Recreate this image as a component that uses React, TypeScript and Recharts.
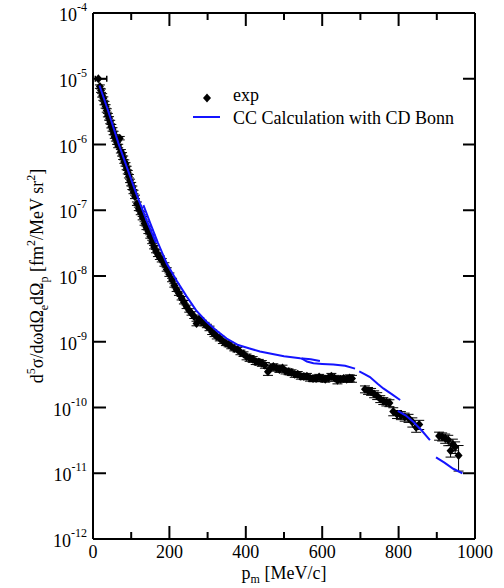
import React from 'react';
import { ScatterChart, Scatter, XAxis, YAxis, ErrorBar, Legend } from 'recharts';

const FONT = '"Liberation Serif", "Times New Roman", serif';
const BLUE = '#1414ff';

// axis ticks
const xTicks = [0, 100, 200, 300, 400, 500, 600, 700, 800, 900, 1000];
const xLabelled = [0, 200, 400, 600, 800, 1000];
const yTicks = [1e-12, 1e-11, 1e-10, 1e-9, 1e-8, 1e-7, 1e-6, 1e-5, 1e-4];
const yExponents = ['-12', '-11', '-10', '-9', '-8', '-7', '-6', '-5', '-4'];

// exp data: [p_m (MeV/c), cross section, error %]
const expFirst = [[14, 1.0e-5, 8, 22]];

const expLow = [
  [18, 7.6e-6, 6], [21, 6.6e-6, 6], [24, 5.6e-6, 6], [27, 5.0e-6, 6], [30, 4.27e-6, 6],
  [33, 3.8e-6, 6], [36, 3.3e-6, 6], [39, 2.8e-6, 6], [42, 2.5e-6, 6], [45, 2.2e-6, 6],
  [48, 1.9e-6, 6], [51, 1.7e-6, 6], [54, 1.5e-6, 6], [57, 1.32e-6, 6], [60, 1.2e-6, 6],
  [63, 1.07e-6, 6], [66, 9.5e-7, 6], [70, 1.25e-6, 6], [73, 7.9e-7, 6], [76, 7.1e-7, 6],
  [79, 6.3e-7, 6], [82, 5.5e-7, 6], [85, 5.0e-7, 6], [88, 4.4e-7, 6], [91, 3.8e-7, 6],
  [94, 3.3e-7, 6], [97, 2.8e-7, 6], [100, 2.5e-7, 6], [103, 2.2e-7, 6], [106, 1.9e-7, 6],
  [110, 1.6e-7, 6], [115, 1.26e-7, 6], [120, 1.05e-7, 6], [125, 9.1e-8, 6], [130, 7.6e-8, 6],
  [135, 6.3e-8, 6], [140, 5.4e-8, 6], [145, 4.7e-8, 6], [150, 4.0e-8, 6], [155, 3.3e-8, 6],
  [160, 2.75e-8, 6], [165, 2.4e-8, 6], [170, 2.1e-8, 6], [175, 1.9e-8, 6], [180, 1.74e-8, 6],
  [187, 1.5e-8, 6], [193, 1.26e-8, 6], [200, 1.05e-8, 6], [207, 8.7e-9, 6], [213, 7.2e-9, 6],
  [219, 6.2e-9, 6], [225, 5.4e-9, 6], [232, 4.6e-9, 6], [238, 4.0e-9, 6], [245, 3.4e-9, 6],
  [252, 3.0e-9, 6], [258, 2.7e-9, 6], [265, 2.4e-9, 6], [271, 1.9e-9, 8], [278, 2.2e-9, 6],
  [285, 2.0e-9, 6], [292, 1.86e-9, 6], [298, 1.74e-9, 6],
];

const expMid = [
  [305, 1.6e-9, 8], [312, 1.4e-9, 8], [318, 1.3e-9, 8], [324, 1.2e-9, 8], [332, 1.12e-9, 8],
  [340, 1.02e-9, 8], [348, 9.5e-10, 8], [355, 9.1e-10, 8], [362, 8.5e-10, 8], [370, 7.9e-10, 8],
  [378, 7.6e-10, 8], [386, 6.9e-10, 8], [394, 6.5e-10, 8], [402, 5.9e-10, 10], [410, 5.6e-10, 10],
  [418, 5.4e-10, 10], [426, 5.0e-10, 10], [434, 4.9e-10, 10], [442, 4.7e-10, 10], [450, 4.4e-10, 10],
  [458, 3.5e-10, 12], [465, 4.0e-10, 10], [472, 4.2e-10, 10], [480, 4.0e-10, 10], [488, 3.8e-10, 10],
  [496, 4.0e-10, 10], [504, 3.6e-10, 10], [512, 3.5e-10, 10], [520, 3.4e-10, 10], [528, 3.2e-10, 10],
  [536, 3.2e-10, 10], [544, 3.0e-10, 10], [552, 2.95e-10, 10], [560, 3.0e-10, 10], [568, 2.8e-10, 10],
  [576, 2.75e-10, 10], [584, 2.75e-10, 10], [592, 2.9e-10, 10], [600, 2.75e-10, 10], [608, 2.7e-10, 10],
  [616, 2.8e-10, 10], [624, 3.0e-10, 10], [632, 2.8e-10, 10], [640, 2.6e-10, 12], [648, 2.7e-10, 10],
  [656, 2.75e-10, 10], [664, 2.7e-10, 10], [672, 2.8e-10, 12], [678, 2.75e-10, 12],
];

const expHigh = [
  [712, 1.9e-10, 12], [720, 1.8e-10, 12], [728, 1.74e-10, 12], [736, 1.6e-10, 12], [744, 1.5e-10, 12],
  [752, 1.35e-10, 12], [760, 1.26e-10, 12], [768, 1.2e-10, 12], [776, 1.17e-10, 12], [786, 8.7e-11, 14],
  [796, 7.9e-11, 14], [806, 7.6e-11, 14], [816, 7.2e-11, 14], [826, 6.9e-11, 14], [836, 6.0e-11, 16],
  [846, 5.0e-11, 16], [854, 5.5e-11, 16],
  [906, 3.7e-11, 14], [914, 3.6e-11, 14], [922, 3.4e-11, 16], [930, 3.2e-11, 18], [936, 2.2e-11, 20],
  [942, 2.75e-11, 20], [948, 2.5e-11, 20], [957, 1.86e-11, 42],
];

// CC calculation with CD Bonn, drawn as separate pieces
const ccA = [[17, 7.9e-6], [40, 3.2e-6], [66, 1.07e-6], [90, 4.3e-7], [114, 1.74e-7], [140, 7.1e-8], [165, 3.2e-8]];
const ccB = [
  [132, 1.2e-7], [150, 6.3e-8], [170, 3.2e-8], [193, 1.55e-8], [220, 8.3e-9], [245, 4.9e-9],
  [270, 3.0e-9], [298, 2.0e-9], [325, 1.45e-9], [350, 1.12e-9], [380, 8.9e-10], [410, 7.9e-10],
  [437, 7.1e-10], [470, 6.5e-10], [500, 6.0e-10], [542, 5.6e-10], [570, 5.4e-10], [594, 5.1e-10],
];
const ccC = [[546, 5.6e-10], [560, 5.0e-10], [577, 4.7e-10], [600, 4.6e-10], [629, 4.5e-10], [660, 4.3e-10], [686, 3.9e-10]];
const ccD = [[697, 3.55e-10], [712, 3.2e-10], [725, 2.9e-10], [745, 2.3e-10], [760, 1.95e-10], [782, 1.6e-10], [804, 1.3e-10]];
const ccE = [[798, 8.9e-11], [818, 7.6e-11], [839, 6.0e-11], [860, 4.5e-11], [882, 3.2e-11]];
const ccF = [[898, 1.74e-11], [920, 1.45e-11], [943, 1.17e-11], [967, 1.0e-11]];

const expData = [...expLow, ...expMid, ...expHigh].map(([x, y, e]) => ({ x, y, err: (y * e) / 100 }));
const firstData = expFirst.map(([x, y, lo, hi]) => ({ x, y, xerr: [lo, hi] }));
const ccPieces = [ccA, ccB, ccC, ccD, ccE, ccF].map((seg) => seg.map(([x, y]) => ({ x, y })));

const Diamond = (props: any) => {
  const { cx, cy } = props;
  if (cx == null || cy == null) return <g />;
  return <path d={`M${cx},${cy - 4.5}L${cx + 4},${cy}L${cx},${cy + 4.5}L${cx - 4},${cy}Z`} fill="#000" />;
};

const NoShape = () => <g />;

const BottomTick = (props: any) => {
  const { x, y, payload } = props;
  const major = xLabelled.includes(payload.value);
  return (
    <g>
      <line x1={x} y1={y} x2={x} y2={y - (major ? 13 : 7)} stroke="#000" strokeWidth={2} />
      {major && (
        <text x={x} y={y + 19} textAnchor="middle" fontSize={18} fontFamily={FONT} fill="#000">
          {payload.value}
        </text>
      )}
    </g>
  );
};

const TopTick = (props: any) => {
  const { x, y, payload } = props;
  const major = xLabelled.includes(payload.value);
  return <line x1={x} y1={y} x2={x} y2={y + (major ? 13 : 7)} stroke="#000" strokeWidth={2} />;
};

const LeftTick = (props: any) => {
  const { x, y, payload } = props;
  const exp = yExponents[yTicks.indexOf(payload.value)];
  return (
    <g>
      <line x1={x} y1={y} x2={x + 13} y2={y} stroke="#000" strokeWidth={2} />
      <text x={x - 6} y={y + 8} textAnchor="end" fontSize={18} fontFamily={FONT} fill="#000">
        10
        <tspan dy={-10} fontSize={12}>
          {exp}
        </tspan>
      </text>
    </g>
  );
};

const RightTick = (props: any) => {
  const { x, y } = props;
  return <line x1={x} y1={y} x2={x - 12} y2={y} stroke="#000" strokeWidth={2} />;
};

const XLabel = (props: any) => {
  const vb = props.viewBox || { x: 93, y: 539, width: 382, height: 49 };
  return (
    <text x={vb.x + vb.width / 2} y={vb.y + 40} textAnchor="middle" fontSize={18} fontFamily={FONT} fill="#000">
      p<tspan dy={4} fontSize={12}>m</tspan>
      <tspan dy={-4}> [MeV/c]</tspan>
    </text>
  );
};

const YLabel = (props: any) => {
  const vb = props.viewBox || { x: 0, y: 13, width: 93, height: 526 };
  const cx = 43;
  const cy = vb.y + vb.height / 2;
  return (
    <text
      x={cx}
      y={cy}
      transform={`rotate(-90 ${cx} ${cy})`}
      textAnchor="middle"
      fontSize={18}
      fontFamily={FONT}
      fill="#000"
    >
      d<tspan dy={-8} fontSize={12}>5</tspan>
      <tspan dy={8}>σ/dωdΩ</tspan>
      <tspan dy={5} fontSize={12}>e</tspan>
      <tspan dy={-5}>dΩ</tspan>
      <tspan dy={5} fontSize={12}>p</tspan>
      <tspan dy={-5}> [fm</tspan>
      <tspan dy={-8} fontSize={12}>2</tspan>
      <tspan dy={8}>/MeV sr</tspan>
      <tspan dy={-8} fontSize={12}>2</tspan>
      <tspan dy={8}>]</tspan>
    </text>
  );
};

const renderLegend = () => (
  <svg width={300} height={46} style={{ display: 'block' }}>
    <path d="M22,8.5L26,13L22,17.5L18,13Z" fill="#000" />
    <text x={48} y={16} fontSize={18} fontFamily={FONT} fill="#000">exp</text>
    <line x1={8} y1={32} x2={35} y2={32} stroke={BLUE} strokeWidth={2} />
    <text x={48} y={39} fontSize={18} fontFamily={FONT} fill="#000">CC Calculation with CD Bonn</text>
  </svg>
);

export default function App() {
  return (
    <div style={{ position: 'absolute', left: 0, top: 0, background: '#fff' }}>
      <ScatterChart width={504} height={588} margin={{ top: 0, right: 0, bottom: 0, left: 0 }}>
        <XAxis
          xAxisId="b"
          dataKey="x"
          type="number"
          domain={[0, 1000]}
          ticks={xTicks}
          interval={0}
          allowDataOverflow
          height={49}
          tickSize={0}
          tickMargin={0}
          tickLine={false}
          tick={<BottomTick />}
          axisLine={{ stroke: '#000', strokeWidth: 2 }}
          label={<XLabel />}
        />
        <XAxis
          xAxisId="t"
          orientation="top"
          dataKey="x"
          type="number"
          domain={[0, 1000]}
          ticks={xTicks}
          interval={0}
          allowDataOverflow
          height={13}
          tickSize={0}
          tickMargin={0}
          tickLine={false}
          tick={<TopTick />}
          axisLine={{ stroke: '#000', strokeWidth: 2 }}
        />
        <YAxis
          yAxisId="l"
          dataKey="y"
          type="number"
          scale="log"
          domain={[1e-12, 1e-4]}
          ticks={yTicks}
          interval={0}
          allowDataOverflow
          width={93}
          tickSize={0}
          tickMargin={0}
          tickLine={false}
          tick={<LeftTick />}
          axisLine={{ stroke: '#000', strokeWidth: 2 }}
          label={<YLabel />}
        />
        <YAxis
          yAxisId="r"
          orientation="right"
          dataKey="y"
          type="number"
          scale="log"
          domain={[1e-12, 1e-4]}
          ticks={yTicks}
          interval={0}
          allowDataOverflow
          width={29}
          tickSize={0}
          tickMargin={0}
          tickLine={false}
          tick={<RightTick />}
          axisLine={{ stroke: '#000', strokeWidth: 2 }}
        />
        <Legend
          layout="horizontal"
          verticalAlign="middle"
          align="center"
          content={renderLegend}
          wrapperStyle={{ position: 'absolute', left: 185, top: 85, width: 300, height: 46 }}
        />
        <Scatter
          name="exp"
          xAxisId="b"
          yAxisId="l"
          data={expData}
          shape={<Diamond />}
          isAnimationActive={false}
        >
          <ErrorBar dataKey="err" direction="y" width={5} stroke="#000" strokeWidth={1} />
        </Scatter>
        <Scatter
          name="exp first"
          xAxisId="b"
          yAxisId="l"
          data={firstData}
          shape={<Diamond />}
          isAnimationActive={false}
          legendType="none"
        >
          <ErrorBar dataKey="xerr" direction="x" width={3} stroke="#000" strokeWidth={1.5} />
        </Scatter>
        {ccPieces.map((seg, i) => (
          <Scatter
            key={`cc-${i}`}
            name="CC Calculation with CD Bonn"
            xAxisId="b"
            yAxisId="l"
            data={seg}
            line={{ stroke: BLUE, strokeWidth: 2 }}
            shape={<NoShape />}
            isAnimationActive={false}
            legendType="none"
          />
        ))}
      </ScatterChart>
    </div>
  );
}
